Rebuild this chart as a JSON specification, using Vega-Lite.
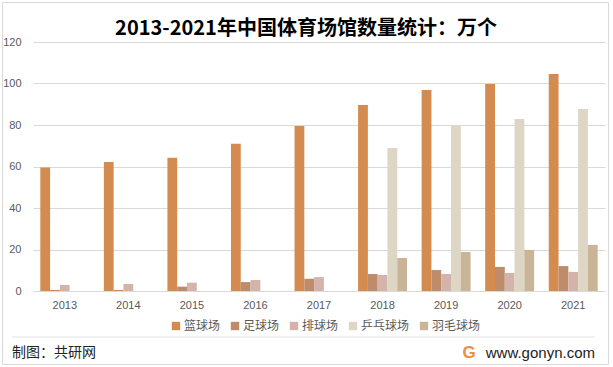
{
  "$schema": "https://vega.github.io/schema/vega-lite/v6.json",
  "width": 572,
  "height": 249,
  "autosize": {"type": "none"},
  "padding": {"left": 33, "top": 42, "right": 8, "bottom": 76},
  "background": "white",
  "title": {
    "text": "2013-2021年中国体育场馆数量统计：万个",
    "font": "Noto Sans CJK SC",
    "fontSize": 20,
    "fontWeight": "bold",
    "color": "#000000",
    "anchor": "middle",
    "frame": "group",
    "dx": -13,
    "offset": -37
  },
  "config": {
    "view": {"stroke": null},
    "font": "Noto Sans CJK SC"
  },
  "layer": [
    {
      "data": {
        "values": [
          {"year": "2013", "type": "篮球场", "value": 59.5},
          {"year": "2013", "type": "足球场", "value": 0.5},
          {"year": "2013", "type": "排球场", "value": 2.9},
          {"year": "2014", "type": "篮球场", "value": 62.2},
          {"year": "2014", "type": "足球场", "value": 0.5},
          {"year": "2014", "type": "排球场", "value": 3.4},
          {"year": "2015", "type": "篮球场", "value": 64.2},
          {"year": "2015", "type": "足球场", "value": 2.1},
          {"year": "2015", "type": "排球场", "value": 4.0},
          {"year": "2016", "type": "篮球场", "value": 71.0},
          {"year": "2016", "type": "足球场", "value": 4.3},
          {"year": "2016", "type": "排球场", "value": 5.3},
          {"year": "2017", "type": "篮球场", "value": 79.5},
          {"year": "2017", "type": "足球场", "value": 5.9},
          {"year": "2017", "type": "排球场", "value": 6.7},
          {"year": "2018", "type": "篮球场", "value": 89.6},
          {"year": "2018", "type": "足球场", "value": 8.2},
          {"year": "2018", "type": "排球场", "value": 7.7},
          {"year": "2018", "type": "乒乓球场", "value": 68.9},
          {"year": "2018", "type": "羽毛球场", "value": 15.9},
          {"year": "2019", "type": "篮球场", "value": 96.9},
          {"year": "2019", "type": "足球场", "value": 10.1},
          {"year": "2019", "type": "排球场", "value": 8.2},
          {"year": "2019", "type": "乒乓球场", "value": 80.0},
          {"year": "2019", "type": "羽毛球场", "value": 18.8},
          {"year": "2020", "type": "篮球场", "value": 99.8},
          {"year": "2020", "type": "足球场", "value": 11.6},
          {"year": "2020", "type": "排球场", "value": 8.7},
          {"year": "2020", "type": "乒乓球场", "value": 82.9},
          {"year": "2020", "type": "羽毛球场", "value": 19.8},
          {"year": "2021", "type": "篮球场", "value": 104.6},
          {"year": "2021", "type": "足球场", "value": 12.0},
          {"year": "2021", "type": "排球场", "value": 9.2},
          {"year": "2021", "type": "乒乓球场", "value": 87.7},
          {"year": "2021", "type": "羽毛球场", "value": 22.2}
        ]
      },
      "mark": {"type": "bar"},
      "encoding": {
        "x": {
          "field": "year",
          "type": "nominal",
          "scale": {"paddingInner": 0.23, "paddingOuter": 0.115},
          "axis": {
            "title": null,
            "labelAngle": 0,
            "labelFont": "Liberation Sans",
            "labelFontSize": 11,
            "labelColor": "#595959",
            "labelPadding": 8,
            "ticks": false,
            "domainColor": "#D9D9D9",
            "domainWidth": 1
          }
        },
        "xOffset": {
          "field": "type",
          "type": "nominal",
          "sort": ["篮球场", "足球场", "排球场", "乒乓球场", "羽毛球场"],
          "scale": {"paddingInner": 0, "paddingOuter": 0}
        },
        "y": {
          "field": "value",
          "type": "quantitative",
          "scale": {"domain": [0, 120]},
          "axis": {
            "title": null,
            "values": [0, 20, 40, 60, 80, 100, 120],
            "labelFont": "Liberation Sans",
            "labelFontSize": 11,
            "labelColor": "#595959",
            "labelPadding": 12,
            "ticks": false,
            "domain": false,
            "gridColor": "#D9D9D9",
            "gridWidth": 1
          }
        },
        "color": {
          "field": "type",
          "type": "nominal",
          "sort": ["篮球场", "足球场", "排球场", "乒乓球场", "羽毛球场"],
          "scale": {
            "domain": ["篮球场", "足球场", "排球场", "乒乓球场", "羽毛球场"],
            "range": ["#D48B4F", "#BE8C6B", "#D4B3AA", "#DED6C4", "#C9B497"]
          },
          "legend": {
            "title": null,
            "orient": "none",
            "direction": "horizontal",
            "legendX": 137,
            "legendY": 278,
            "symbolType": "square",
            "symbolSize": 70,
            "symbolStrokeWidth": 0,
            "labelFont": "Noto Sans CJK SC",
            "labelFontSize": 12,
            "labelColor": "#595959",
            "labelOffset": 2,
            "columnPadding": 8
          }
        }
      }
    },
    {
      "data": {"values": [{}]},
      "mark": {"type": "rule", "color": "#E3E3E3", "strokeWidth": 1},
      "encoding": {
        "x": {"value": -21},
        "x2": {"value": 562},
        "y": {"value": 295},
        "y2": {"value": 295}
      }
    },
    {
      "data": {"values": [{}]},
      "mark": {"type": "rect", "fill": null, "stroke": "#D9D9D9", "strokeWidth": 1},
      "encoding": {
        "x": {"value": -30.5},
        "x2": {"value": 575.5},
        "y": {"value": -39.5},
        "y2": {"value": 322.5}
      }
    },
    {
      "data": {"values": [{}]},
      "mark": {"type": "text", "text": "制图：共研网", "font": "Noto Sans CJK SC", "fontSize": 14, "color": "#222222", "align": "left", "baseline": "middle"},
      "encoding": {
        "x": {"value": -21},
        "y": {"value": 311}
      }
    },
    {
      "data": {"values": [{}]},
      "mark": {"type": "text", "text": "www.gonyn.com", "font": "Liberation Sans", "fontSize": 15, "color": "#222222", "align": "right", "baseline": "middle"},
      "encoding": {
        "x": {"value": 562},
        "y": {"value": 311}
      }
    },
    {
      "data": {"values": [{}]},
      "mark": {"type": "text", "text": "G", "font": "Liberation Sans", "fontSize": 17, "fontWeight": "bold", "color": "#F08C3C", "align": "center", "baseline": "middle"},
      "encoding": {
        "x": {"value": 436},
        "y": {"value": 311}
      }
    }
  ]
}
